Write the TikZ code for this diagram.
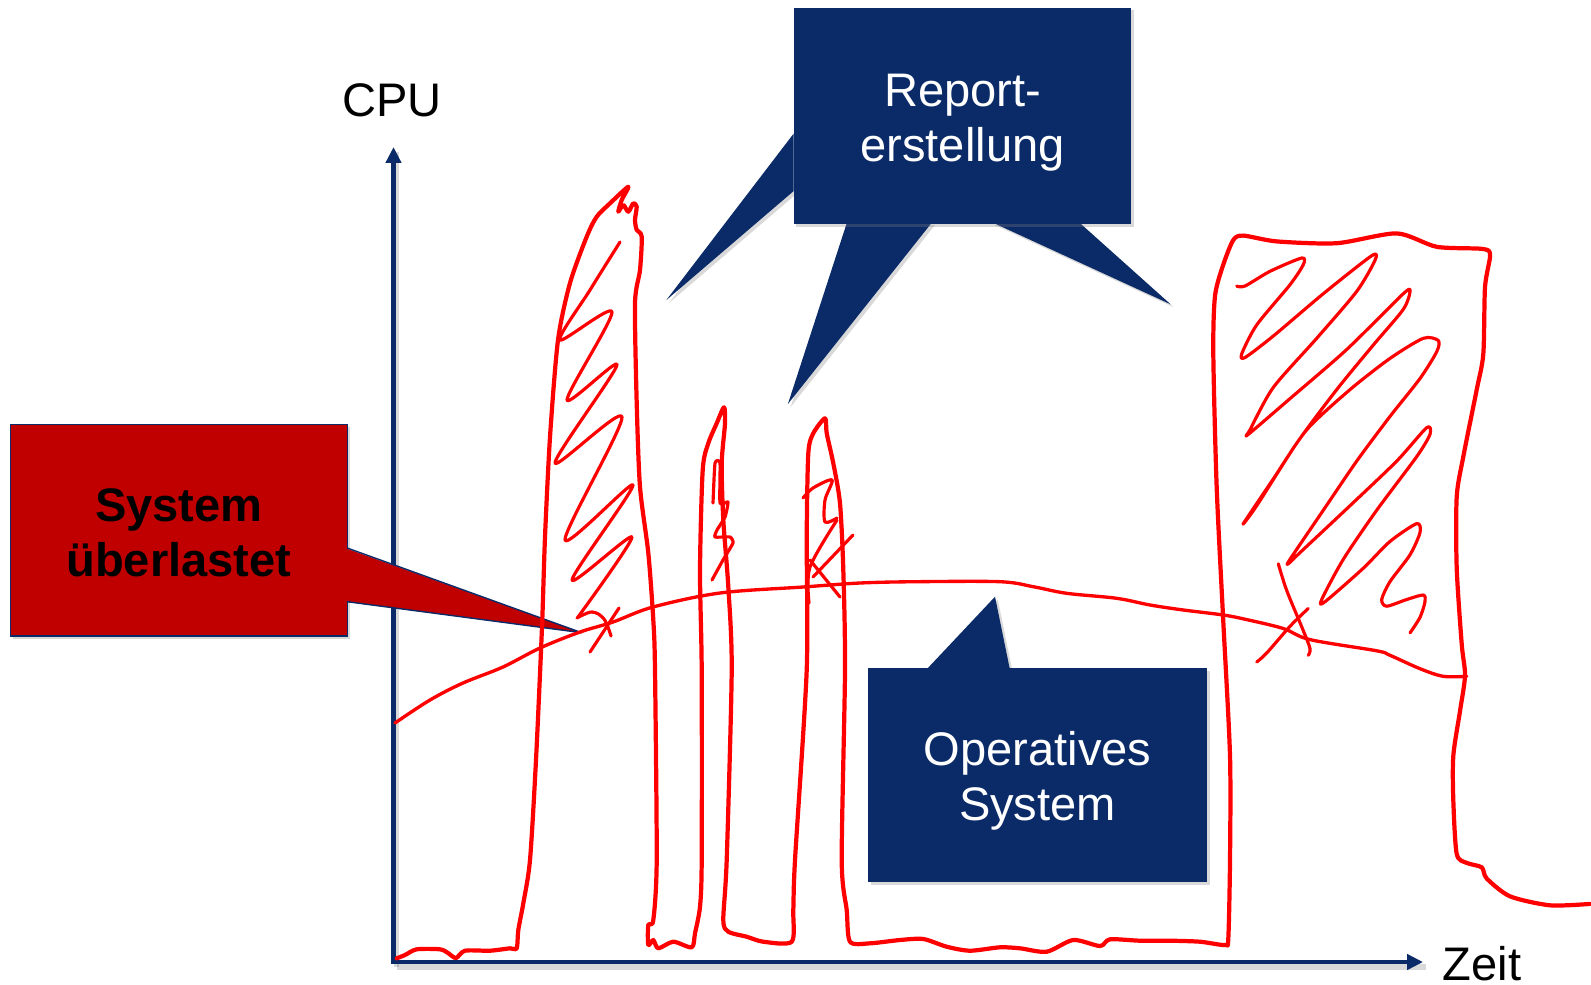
\documentclass[tikz,border=0pt]{standalone}
\usepackage{fontspec}
\setmainfont{Liberation Sans}
\usetikzlibrary{arrows.meta,shadows}
\definecolor{navy}{RGB}{11,43,104}
\definecolor{boxred}{RGB}{192,0,0}
\definecolor{pen}{RGB}{255,0,0}

\begin{document}
\begin{tikzpicture}[x=0.02cm,y=-0.02cm,
  lbl/.style={font=\fontsize{26.8}{31.3}\selectfont, align=center, inner sep=0pt},
  navybox/.style={lbl, fill=navy, text=white,
    drop shadow={opacity=0.3, shadow xshift=1.6pt, shadow yshift=-1.6pt}},
  tailfill/.style={fill=navy,
    drop shadow={opacity=0.3, shadow xshift=1.6pt, shadow yshift=-1.6pt}},
  alertbox/.style={lbl, fill=boxred, draw=navy, line width=0.8pt, text=black,
    font=\fontsize{26.8}{31.3}\selectfont\bfseries,
    drop shadow={opacity=0.3, shadow xshift=1.6pt, shadow yshift=-1.6pt}},
  axisline/.style={navy, line width=2.6pt,
    {Triangle[length=9pt,width=8.5pt]}-{Triangle[length=9pt,width=8.5pt]}},
  penline/.style={pen, line width=2.4pt, line cap=round, line join=round},
  hatchline/.style={pen, line width=1.8pt, line cap=round, line join=round},
]
\useasboundingbox (0,0) rectangle (1591,984);

% axes
\coordinate (o) at (393.5,962);
\coordinate (ytip) at (393.5,147);
\coordinate (xtip) at (1423,962);
\draw[black, opacity=0.15, line width=3pt] ([shift={(3,5)}]o) -- ([shift={(3,5)}]xtip);
\draw[black, opacity=0.15, line width=3pt] ([shift={(3,5)}]o) -- ([shift={(3,5)}]ytip);
\draw[axisline] (ytip) -- (o) -- (xtip);
\node[lbl, anchor=base] (cpu) at (392,116.7) {CPU};
\node[lbl, anchor=base] (zeit) at (1482,980) {Zeit};

% callout: report generation
\fill[tailfill] (793.7,133.5) -- (666.2,300.2) -- (793.7,191) -- cycle;
\fill[tailfill] (847.1,222) -- (787.9,404) -- (932.3,222) -- cycle;
\fill[tailfill] (991.4,222) -- (1170.6,304.3) -- (1078.7,222) -- cycle;
\node[navybox, minimum width=6.76cm, minimum height=4.34cm] (rep) at (962.5,116)
  {\rule{0pt}{26pt}Report-\\erstellung};

% callout: operational system
\fill[tailfill] (926,670) -- (995,596.7) -- (1010,670) -- cycle;
\node[navybox, minimum width=6.77cm, minimum height=4.27cm] (ops) at (1037.5,775)
  {\rule{0pt}{26pt}Operatives\\System};

% callout: overload
\node[alertbox, minimum width=6.74cm, minimum height=4.23cm] (over) at (178.8,530.3)
  {\rule{0pt}{22pt}System\\überlastet};
\coordinate (overtip) at (581.7,632.7);
\fill[boxred] (345,548) -- (overtip) -- (345,601.7) -- cycle;
\draw[navy, line width=0.8pt, line join=round] (347.2,548) -- (overtip) -- (347.2,601.7);

% CPU load of the operational system
\draw[penline, line width=1.9pt] plot[smooth, tension=0.55] coordinates {
 (395,723) (430,700) (463,683) (503,667) (540,648) (580,632) (613,622) (653,607)
 (720,593) (803,587) (860,583) (916.7,581.7) (1000,581.7) (1033.3,586.7)
 (1066.7,593.3) (1116.7,598.3) (1150,605) (1183.3,610) (1223.3,615) (1246.7,619.6)
 (1283.3,628.5) (1310,639.6) (1376.7,650.8) (1390,655.3) (1420,668.7)
 (1443.3,676.3) (1466.7,676.3)};

% total CPU load with report peaks
\draw[penline] plot[smooth, tension=0.45] coordinates {
 (396.7,958.3) (405,955) (416.7,949.3) (440,949.3) (448,953) (456,958) (465,950.7)
 (490,950.7) (510,948.3) (516.7,948.3) (518.3,930) (523.3,903.3) (530,860)
 (536,760) (542,627) (545,537) (550,437) (558,340) (570,283) (586.7,236.7)
 (596.7,216.7) (610,203.3) (628.3,186.7) (621.7,200) (618.3,211.7) (623.3,205)
 (628.3,211.7) (633.3,203.3) (636.7,206.7) (635,220) (636.7,230) (641.7,236.7)
 (640,270) (635,303) (636.7,403) (640,487) (648.3,553) (653.3,620) (655,670)
 (656.7,860) (653.3,920) (648.3,925) (648.3,945) (653.3,940) (658.3,948.3)
 (673.3,941.7) (691.7,947.3) (695,933.3) (700,906.7) (701.7,860) (701.7,670)
 (700,570) (702.7,470) (708.3,443.3) (716.7,423.3) (724,407.3) (725,423.3)
 (721.7,463.3) (723.3,520) (728.3,586.7) (731.7,670) (726.7,860) (723.3,920)
 (728.3,931.7) (746.7,936.7) (763.3,941.7) (791.7,941.7) (793.3,910) (795,860)
 (806.7,670) (806.7,536.7) (808.3,453.3) (813.3,433.3) (825,418.3) (826.7,433.3)
 (833.3,463.3) (840,503.3) (843.3,570) (845,670) (841.7,860) (846.7,910)
 (850,941.7) (870,943.3) (900,940) (923.3,939) (946.7,946.7) (970,950.7)
 (1000,947.3) (1020,948.3) (1046.7,951.7) (1073.3,940) (1100,946) (1110,939.3)
 (1140,940.7) (1170,940.7) (1200,941.7) (1225,945) (1228.3,938.3) (1230,860)
 (1230,755.7) (1223.3,621.8) (1216.7,487.9) (1213.3,353.9) (1215,295.9)
 (1223.3,264.6) (1233.3,240) (1243.3,235.6) (1276.7,241.4) (1336.7,243.2)
 (1396.7,233.4) (1436.7,246.8) (1483.3,249) (1490,255.7) (1485,287)
 (1483.3,353.9) (1476.7,389.6) (1463.3,456.6) (1456.7,496.8) (1456.7,568.2)
 (1461.7,644.1) (1465,675.4) (1460,711) (1453.3,755.7) (1453.3,800.4)
 (1456.7,853.9) (1466.7,862.9) (1481.7,867.3) (1486.7,878.5) (1510,896.3)
 (1550,905.3) (1590,903.9)};

% hatching of the first peak
\draw[hatchline] plot[smooth, tension=0.5] coordinates {
 (620,242) (590,290) (560,340) (612,312) (567,400) (617,365) (555,463) (622,417)
 (565,540) (633,485) (572,580) (632,537) (578,617)};
\draw[hatchline] plot[smooth, tension=0.6] coordinates {(577,618) (592,612) (604,619) (611,636)};
\draw[hatchline] (619,608) -- (590,652);

% hatching of the second peak
\draw[hatchline] plot[smooth, tension=0.3] coordinates {
 (713,503) (715,463) (720,463) (720,503) (728,502) (725,517) (717,530) (715,537)
 (730,537) (733,543) (723,560) (712,580)};

% hatching of the third peak
\draw[hatchline] plot[smooth, tension=0.5] coordinates {
 (803,498) (813,488) (832,480) (825,500) (825,522) (837,518)};
\draw[hatchline] plot[smooth, tension=0.5] coordinates {(837,520) (810,567) (809,603)};
\draw[hatchline] (853,535) -- (813,577);
\draw[hatchline] (810,560) -- (840,597);

% hatching of the last peak
\draw[hatchline] plot[smooth, tension=0.45] coordinates {
 (1236.7,286.1) (1245,286) (1270,271.3) (1301.7,258) (1303.3,264.6) (1290,284.7)
 (1256.7,324.9) (1241.7,353.9) (1245,357.5) (1273.3,336) (1323.3,293.7)
 (1371.7,255.7) (1375,260.2) (1356.7,291.4) (1316.7,338.3) (1273.3,387.4)
 (1250,429.8) (1248.3,434.3) (1290,398.6) (1346.7,349.5) (1403.3,293.7)
 (1410,291.4) (1403.3,309.3) (1373.3,345) (1336.7,389.6) (1296.7,443.2)
 (1256.7,505.7) (1243.3,523.6) (1273.3,478.9) (1306.7,429.8) (1350,389.6)
 (1390,358.4) (1423.3,338.3) (1438.3,340.5) (1436.7,351.7) (1420,378.5)
 (1390,416.4) (1356.7,461.1) (1323.3,510.2) (1290,559.3) (1288.3,563.8)
 (1300,552.6) (1350,505.7) (1396.7,461.1) (1426.7,427.6) (1430,434.3)
 (1416.7,456.6) (1376.7,510.2) (1343.3,559.3) (1321.7,599.5) (1325,601.7)
 (1363.3,568.2) (1390,541.4) (1416.7,523.6) (1420,532.5) (1410,554.8)
 (1390,581.6) (1381.7,599.5) (1386.7,606.2) (1406.7,599.5) (1423.3,595)
 (1425,601.7) (1420,617.3) (1410,632.9)};
\draw[hatchline] plot[smooth, tension=0.5] coordinates {
 (1278.3,563.8) (1286.7,590.5) (1303.3,630.7) (1310,648.6) (1308.3,655.3)};
\draw[hatchline] plot[smooth, tension=0.5] coordinates {
 (1256.7,662) (1266.7,653) (1290,626.3) (1308.3,608.4)};
\end{tikzpicture}
\end{document}
